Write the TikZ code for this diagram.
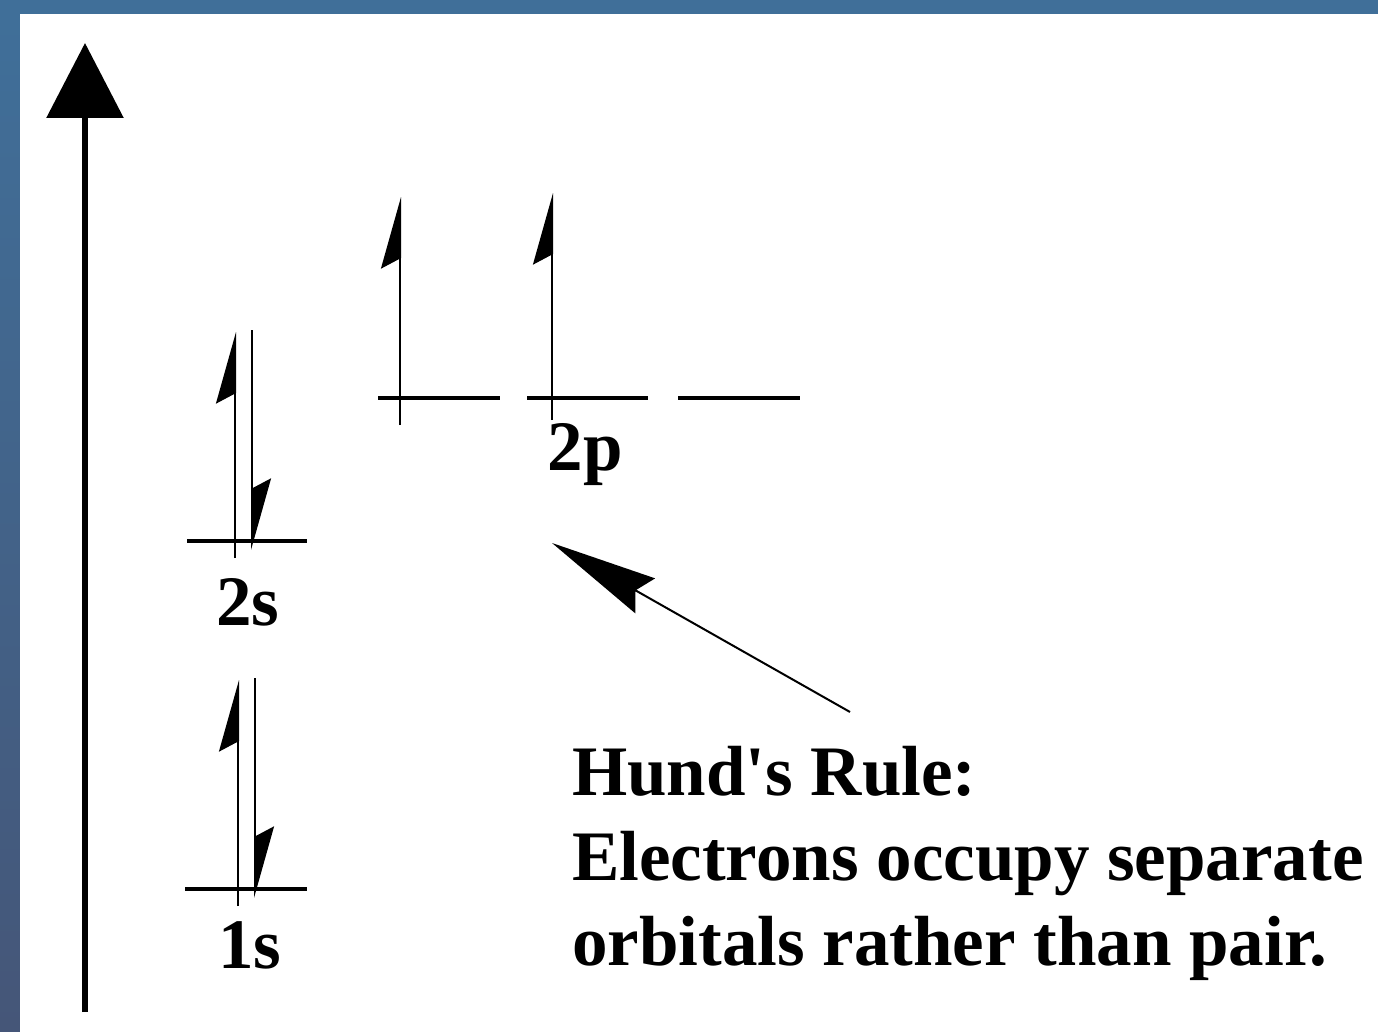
\documentclass[tikz,border=0pt]{standalone}
\usepackage{fontspec}
\setmainfont{Liberation Serif}[Ligatures=TeXOff]
\usepackage{tikz}
\usetikzlibrary{arrows.meta,positioning,calc}
\definecolor{framec}{RGB}{64,111,153}
\definecolor{framed}{RGB}{69,86,120}
\tikzset{
  level/.style = {line width=4pt},
  spin/.style  = {line width=2pt, -{Stealth[harpoon,length=68pt,width=38pt,inset=10pt]}},
  axis/.style  = {line width=6pt, -{Triangle[length=75pt,width=76pt]}},
  hint/.style  = {line width=2pt, -{Stealth[length=107pt,width=40pt,inset=11pt]}},
  lab/.style   = {font=\fontsize{71}{85}\selectfont\bfseries, inner sep=0pt},
}
\begin{document}
\begin{tikzpicture}[x=1pt,y=-1pt]

% ---- frame ----
\fill[framec] (0,0) rectangle (1378,1032);
\shade[top color=framec, bottom color=framed] (0,14) rectangle (20,1032);
\fill[white] (20,14) rectangle (1378,1032);

% ---- energy axis ----
\coordinate (ebot) at (85,1012);
\coordinate (etop) at (85,43);
\draw[axis] (ebot) -- (etop);

% ---- 1s ----
\coordinate (s1l) at (185,889);
\coordinate (s1r) at (307,889);
\draw[level] (s1l) -- (s1r);
\draw[spin] (238,906) coordinate (s1ua) -- (238,680) coordinate (s1ub);
\draw[spin] (255,678) coordinate (s1da) -- (255,898) coordinate (s1db);
\node[lab, anchor=base] (n1s) at (250,968) {1s};

% ---- 2s ----
\coordinate (s2l) at (187,541);
\coordinate (s2r) at (307,541);
\draw[level] (s2l) -- (s2r);
\draw[spin] (235,558) coordinate (s2ua) -- (235,332) coordinate (s2ub);
\draw[spin] (252,330) coordinate (s2da) -- (252,550) coordinate (s2db);
\node[lab, anchor=base] (n2s) at (248,625) {2s};

% ---- 2p ----
\draw[level] (378,398) coordinate (pa) -- (500,398) coordinate (pb);
\draw[level] (527,398) coordinate (pc) -- (648,398) coordinate (pd);
\draw[level] (678,398) coordinate (pe) -- (800,398) coordinate (pf);
\draw[spin] (400,425) coordinate (p1a) -- (400,197) coordinate (p1b);
\draw[spin] (552,420) coordinate (p2a) -- (552,193) coordinate (p2b);
\node[lab, anchor=base] (n2p) at (585,470) {2p};

% ---- Hund's rule ----
\node[lab, anchor=base west] (rule) at (572,795) {Hund's Rule:};
\node[lab, anchor=base west] (rule2) at (572,880) {Electrons occupy separate};
\node[lab, anchor=base west] (rule3) at (572,965) {orbitals rather than pair.};
\coordinate (hfrom) at (850,712);
\coordinate (hto) at (552,543);
\draw[hint] (hfrom) -- (hto);

\end{tikzpicture}
\end{document}
